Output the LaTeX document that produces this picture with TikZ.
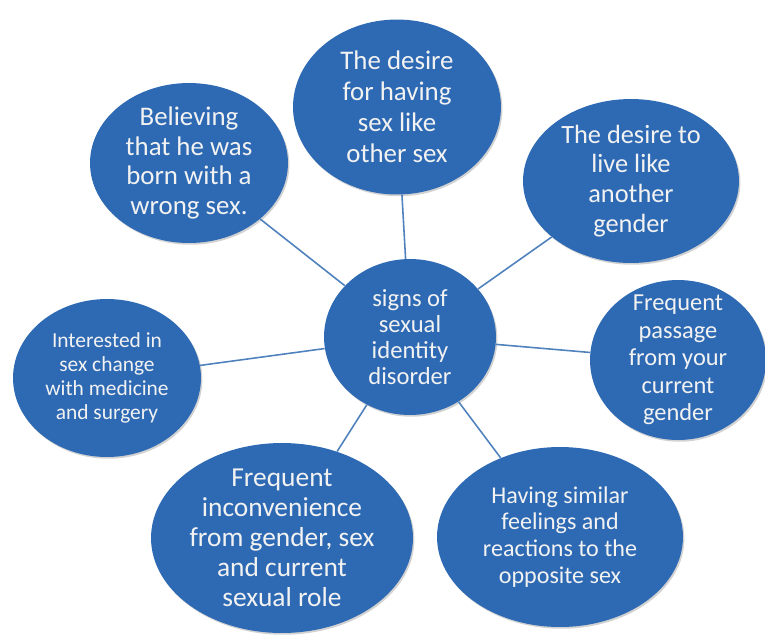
\documentclass[tikz,border=0pt]{standalone}
\usepackage{fontspec}
\setmainfont{Carlito}
\usetikzlibrary{shapes.geometric,shadows}
\definecolor{bubblefill}{RGB}{46,106,180}
\definecolor{linkblue}{RGB}{79,129,189}
\definecolor{bubbletext}{RGB}{242,242,242}

\begin{document}
\begin{tikzpicture}[
  x=0.02cm,y=-0.02cm,
  bubble/.style={ellipse,fill=bubblefill,text=bubbletext,inner sep=-15pt,align=center,
    drop shadow={shadow xshift=0.8pt,shadow yshift=-1pt,opacity=0.25,fill=black!70}},
  link/.style={draw=linkblue,line width=0.9pt},
  every node/.style={align=center}]

  \useasboundingbox (0,0) rectangle (765,637);

  % Place the bubbles at their positions
  \node[bubble,minimum width=3.44cm,minimum height=3.12cm,font=\fontsize{14}{14.8}\selectfont] (signs) at (410,337)
    {signs of\\sexual\\identity\\disorder};
  \node[bubble,minimum width=4.16cm,minimum height=3.5cm,font=\fontsize{15.3}{17.6}\selectfont] (desiresex) at (397,107)
    {The desire\\for having\\sex like\\other sex};
  \node[bubble,minimum width=3.96cm,minimum height=3.2cm,font=\fontsize{15.3}{17}\selectfont] (believing) at (189,163)
    {Believing\\that he was\\born with a\\wrong sex.};
  \node[bubble,minimum width=4.32cm,minimum height=3.28cm,font=\fontsize{15}{17}\selectfont] (livelike) at (631,181)
    {The desire to\\live like\\another\\gender};
  \node[bubble,minimum width=3.52cm,minimum height=3.2cm,font=\fontsize{13.9}{15.6}\selectfont] (passage) at (678,360)
    {Frequent\\passage\\from your\\current\\gender};
  \node[bubble,minimum width=4.92cm,minimum height=3.6cm,font=\fontsize{13.7}{15.3}\selectfont] (feelings) at (560,537)
    {Having similar\\feelings and\\reactions to the\\opposite sex};
  \node[bubble,minimum width=5.24cm,minimum height=3.8cm,font=\fontsize{15.6}{17}\selectfont] (inconv) at (282,538)
    {Frequent\\inconvenience\\from gender, sex\\and current\\sexual role};
  \node[bubble,minimum width=3.76cm,minimum height=3.16cm,font=\fontsize{12.2}{13.6}\selectfont] (surgery) at (107,378)
    {Interested in\\sex change\\with medicine\\and surgery};

  % Connect the center to every bubble
  \foreach \n in {desiresex,believing,livelike,passage,feelings,inconv,surgery}
    \draw[link] (signs) -- (\n);
\end{tikzpicture}
\end{document}
